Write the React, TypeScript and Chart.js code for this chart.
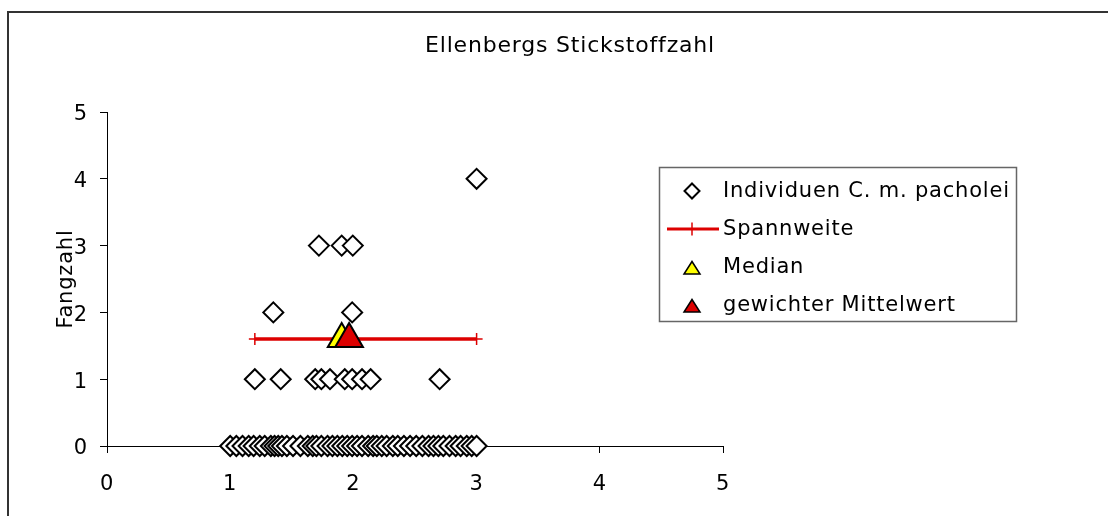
import React, { useEffect, useRef } from 'react';
import { Chart, registerables } from 'chart.js';

Chart.register(...registerables);

// ---------- data ----------
const TITLE = 'Ellenbergs Stickstoffzahl';
const Y_TITLE = 'Fangzahl';
const X_TICK_VALUES = [0, 1, 2, 3, 4, 5];
const Y_TICK_VALUES = [0, 1, 2, 3, 4, 5];

// Individuen: x = Stickstoffzahl, grouped by Fangzahl
const fang0X = [
  1.0, 1.05, 1.1, 1.15, 1.19, 1.24, 1.28, 1.33, 1.36, 1.39, 1.42, 1.46, 1.51, 1.57,
  1.63, 1.67, 1.7, 1.74, 1.79, 1.83, 1.87, 1.91, 1.95, 1.99, 2.03, 2.07, 2.12, 2.16,
  2.19, 2.23, 2.27, 2.32, 2.36, 2.41, 2.46, 2.51, 2.56, 2.61, 2.65, 2.69, 2.73, 2.78,
  2.83, 2.87, 2.92, 2.96, 3.0,
];
const fang1X = [1.2, 1.41, 1.69, 1.74, 1.81, 1.93, 1.99, 2.07, 2.14, 2.7];
const fang2X = [1.35, 1.99];
const fang3X = [1.72, 1.905, 1.995];
const fang4X = [3.0];

const rangeX = [1.2, 3.0];
const rangeY = [1.6, 1.6];
const medianX = [1.905];
const medianY = [1.6];
const meanX = [1.965];
const meanY = [1.6];

const LEGEND_LABELS = ['Individuen C. m. pacholei', 'Spannweite', 'Median', 'gewichter Mittelwert'];

// ---------- style ----------
const FONT_FAMILY = '"DejaVu Sans", sans-serif';
const LETTER_SPACING = '0.8px';
const RED = '#dd0000';
const YELLOW = '#ffff00';

const individualPoints = [
  ...fang0X.map((x) => ({ x, y: 0 })),
  ...fang1X.map((x) => ({ x, y: 1 })),
  ...fang2X.map((x) => ({ x, y: 2 })),
  ...fang3X.map((x) => ({ x, y: 3 })),
  ...fang4X.map((x) => ({ x, y: 4 })),
];
const zip = (xs: number[], ys: number[]) => xs.map((x, i) => ({ x, y: ys[i] }));

const spacingPlugin = {
  id: 'spacing',
  beforeDraw(chart: any) {
    chart.ctx.letterSpacing = LETTER_SPACING;
  },
};

const framePlugin = {
  id: 'frameLegend',
  afterDraw(chart: any) {
    const ctx: CanvasRenderingContext2D = chart.ctx;
    ctx.save();
    (ctx as any).letterSpacing = LETTER_SPACING;
    // outer frame (top + left visible)
    ctx.strokeStyle = '#333';
    ctx.lineWidth = 2;
    ctx.beginPath();
    ctx.moveTo(8, 520);
    ctx.lineTo(8, 12);
    ctx.lineTo(1120, 12);
    ctx.stroke();

    // title
    ctx.fillStyle = '#000';
    ctx.font = `22px ${FONT_FAMILY}`;
    ctx.textAlign = 'center';
    ctx.textBaseline = 'middle';
    ctx.fillText(TITLE, 570, 46);

    // legend box
    ctx.strokeStyle = '#666';
    ctx.lineWidth = 1.5;
    ctx.strokeRect(659.5, 167.5, 357, 154);

    const rows = [191, 229, 267, 305];
    const symX = 692;
    const textX = 723;
    ctx.font = `21px ${FONT_FAMILY}`;
    ctx.textAlign = 'left';
    ctx.textBaseline = 'middle';
    LEGEND_LABELS.forEach((label, i) => {
      ctx.fillStyle = '#000';
      ctx.fillText(label, textX, rows[i] + 1);
    });

    // diamond
    ctx.lineWidth = 2;
    ctx.strokeStyle = '#000';
    ctx.fillStyle = '#fff';
    const r = 7.5;
    ctx.beginPath();
    ctx.moveTo(symX, rows[0] - r);
    ctx.lineTo(symX + r, rows[0]);
    ctx.lineTo(symX, rows[0] + r);
    ctx.lineTo(symX - r, rows[0]);
    ctx.closePath();
    ctx.fill();
    ctx.stroke();

    // range line with cross
    ctx.strokeStyle = RED;
    ctx.lineWidth = 3;
    ctx.beginPath();
    ctx.moveTo(667, rows[1]);
    ctx.lineTo(719, rows[1]);
    ctx.stroke();
    ctx.lineWidth = 1.5;
    ctx.beginPath();
    ctx.moveTo(symX, rows[1] - 6.5);
    ctx.lineTo(symX, rows[1] + 6.5);
    ctx.stroke();

    // triangles
    const tri = (cy: number, fill: string) => {
      ctx.beginPath();
      ctx.moveTo(symX, cy - 6.5);
      ctx.lineTo(symX + 8, cy + 6);
      ctx.lineTo(symX - 8, cy + 6);
      ctx.closePath();
      ctx.fillStyle = fill;
      ctx.fill();
      ctx.strokeStyle = '#000';
      ctx.lineWidth = 1.5;
      ctx.stroke();
    };
    tri(rows[2] + 1, YELLOW);
    tri(rows[3] + 1, RED);
    ctx.restore();
  },
};

export default function App() {
  const canvasRef = useRef<HTMLCanvasElement | null>(null);

  useEffect(() => {
    if (!canvasRef.current) return;
    const tickFont = { family: FONT_FAMILY, size: 21, lineHeight: 1.2 };
    const chart = new Chart(canvasRef.current, {
      type: 'scatter',
      data: {
        datasets: [
          {
            label: LEGEND_LABELS[0],
            data: individualPoints,
            pointStyle: 'rectRot',
            pointRadius: 10,
            pointBackgroundColor: '#fff',
            pointBorderColor: '#000',
            pointBorderWidth: 2,
            showLine: false,
            clip: false,
            order: 3,
          },
          {
            label: LEGEND_LABELS[1],
            data: zip(rangeX, rangeY),
            showLine: true,
            borderColor: RED,
            borderWidth: 3.5,
            pointStyle: 'cross',
            pointRadius: 6,
            pointBorderColor: RED,
            pointBorderWidth: 1.5,
            clip: false,
            order: 2,
          },
          {
            label: LEGEND_LABELS[2],
            data: zip(medianX, medianY),
            pointStyle: 'triangle',
            pointRadius: 16,
            pointBackgroundColor: YELLOW,
            pointBorderColor: '#000',
            pointBorderWidth: 2,
            showLine: false,
            clip: false,
            order: 1,
          },
          {
            label: LEGEND_LABELS[3],
            data: zip(meanX, meanY),
            pointStyle: 'triangle',
            pointRadius: 16,
            pointBackgroundColor: RED,
            pointBorderColor: '#000',
            pointBorderWidth: 2,
            showLine: false,
            clip: false,
            order: 0,
          },
        ] as any,
      },
      options: {
        responsive: false,
        animation: false,
        events: [],
        layout: { padding: { left: 0, top: 112, right: 385, bottom: 0 } },
        plugins: {
          legend: { display: false },
          tooltip: { enabled: false },
          title: { display: false },
        },
        scales: {
          x: {
            type: 'linear',
            position: 'bottom',
            min: 0,
            max: 5,
            afterBuildTicks: (s: any) => {
              s.ticks = X_TICK_VALUES.map((v) => ({ value: v }));
            },
            ticks: { color: '#000', font: tickFont, padding: 19 },
            grid: {
              display: true,
              drawOnChartArea: false,
              drawTicks: true,
              tickLength: 7,
              color: '#000',
              lineWidth: 1,
            },
            border: { display: true, color: '#000', width: 1 },
            afterFit: (s: any) => {
              s.height = 70;
            },
          },
          y: {
            type: 'linear',
            position: 'left',
            min: 0,
            max: 5,
            afterBuildTicks: (s: any) => {
              s.ticks = Y_TICK_VALUES.map((v) => ({ value: v }));
            },
            ticks: { color: '#000', font: tickFont, padding: 12, labelOffset: 3 },
            grid: {
              display: true,
              drawOnChartArea: false,
              drawTicks: true,
              tickLength: 7,
              color: '#000',
              lineWidth: 1,
            },
            border: { display: true, color: '#000', width: 1 },
            title: {
              display: true,
              text: Y_TITLE,
              color: '#000',
              font: tickFont,
              padding: { top: 54, bottom: 0 },
            },
            afterFit: (s: any) => {
              s.width = 107;
            },
          },
        },
      } as any,
      plugins: [spacingPlugin, framePlugin],
    });
    return () => chart.destroy();
  }, []);

  return (
    <div style={{ position: 'absolute', left: 0, top: 0, width: 1108, height: 516, background: '#fff', overflow: 'hidden' }}>
      <canvas ref={canvasRef} width={1108} height={516} style={{ display: 'block' }} />
    </div>
  );
}
